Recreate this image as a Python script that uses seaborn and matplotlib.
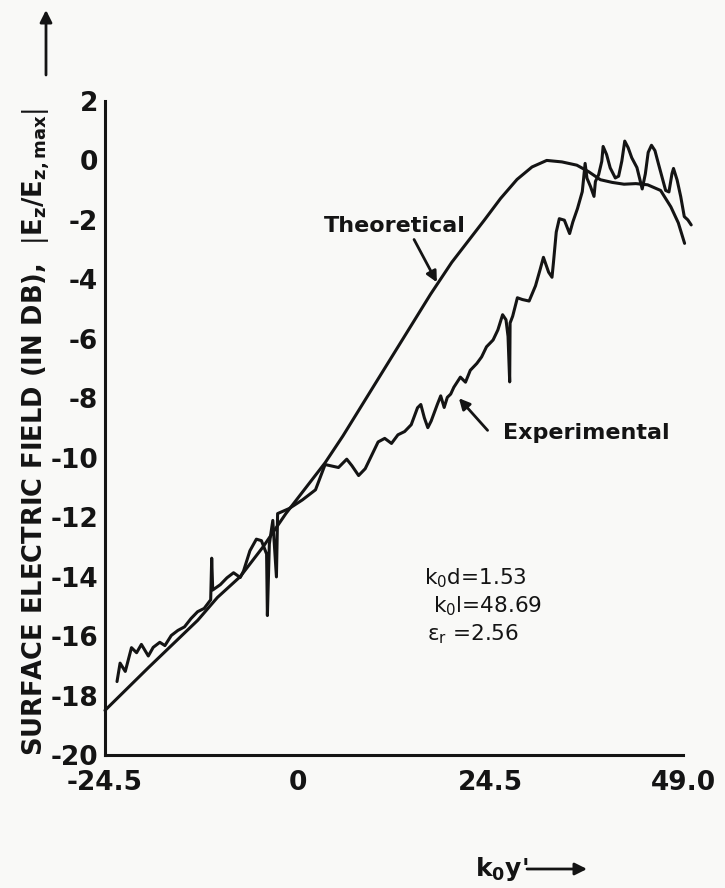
import numpy as np
import matplotlib
matplotlib.use("Agg")
import matplotlib.pyplot as plt
import seaborn as sns

# Experimental surface field |Ez/Ez,max| (dB) versus k0*y'
exp_x = [-22.97, -22.58, -21.92, -21.13, -20.48, -19.87, -18.99, -18.37, -17.53, -16.88,
         -16.07, -15.23, -14.39, -13.56, -12.72, -11.89, -11.06, -10.93, -10.80, -9.83,
         -8.99, -8.15, -7.30, -6.88, -6.07, -5.25, -4.61, -3.95, -3.85, -3.60,
         -3.16, -2.70, -2.55, -1.08, 0.60, 2.27, 3.49, 5.19, 6.24, 6.90,
         7.75, 8.59, 9.41, 10.23, 11.07, 11.93, 12.75, 13.60, 14.44, 15.24,
         15.66, 16.11, 16.55, 16.97, 17.77, 18.19, 18.63, 19.03, 19.46, 19.86,
         20.69, 21.34, 21.95, 22.78, 23.39, 24.01, 24.85, 25.46, 26.06, 26.49,
         26.75, 26.96, 27.01, 27.34, 27.94, 28.58, 29.43, 30.24, 30.84, 31.25,
         31.91, 32.34, 32.53, 32.88, 33.27, 33.91, 34.58, 34.99, 35.58, 36.19,
         36.36, 36.55, 36.79, 37.24, 37.68, 37.86, 38.27, 38.67, 38.84, 39.28,
         39.74, 40.39, 40.81, 41.22, 41.59, 42.02, 42.48, 43.14, 43.81, 44.21,
         44.57, 44.99, 45.43, 45.87, 46.33, 46.79, 47.21, 47.60, 47.79, 48.25,
         48.71, 49.16, 49.61, 50.04]
exp_y = [-17.53, -16.91, -17.19, -16.39, -16.56, -16.28, -16.67, -16.38, -16.21, -16.32,
         -15.98, -15.81, -15.69, -15.41, -15.18, -15.07, -14.78, -13.38, -14.45, -14.27,
         -14.04, -13.87, -14.03, -13.81, -13.13, -12.74, -12.79, -13.24, -15.31, -12.90,
         -12.11, -14.01, -11.88, -11.71, -11.42, -11.08, -10.23, -10.33, -10.05, -10.27,
         -10.60, -10.37, -9.92, -9.47, -9.35, -9.52, -9.23, -9.12, -8.89, -8.32,
         -8.21, -8.66, -8.99, -8.77, -8.20, -7.92, -8.31, -7.97, -7.86, -7.63,
         -7.29, -7.46, -7.06, -6.83, -6.61, -6.27, -6.04, -5.70, -5.19, -5.36,
         -5.92, -7.45, -5.47, -5.24, -4.62, -4.68, -4.73, -4.22, -3.66, -3.26,
         -3.76, -3.93, -3.42, -2.41, -1.96, -2.01, -2.46, -2.07, -1.62, -1.05,
         -0.61, -0.10, -0.60, -0.88, -1.21, -0.71, -0.48, -0.03, 0.47, 0.20,
         -0.25, -0.59, -0.53, -0.02, 0.65, 0.43, 0.09, -0.24, -0.96, -0.45,
         0.27, 0.51, 0.33, -0.11, -0.56, -1.01, -1.06, -0.44, -0.27, -0.66,
         -1.22, -1.89, -2.00, -2.17]

# Theoretical surface field (dB) versus k0*y'
theo_x = [-24.5, -18.97, -12.71, -10.2, -7.3, -4.4, -1.5, 3.49, 5.75, 10.0,
          16.9, 19.59, 23.73, 25.8, 27.89, 29.8, 31.67, 33.6, 35.5, 37.0,
          38.5, 40.0, 41.5, 43.0, 44.5, 46.15, 47.45, 48.4, 49.2]
theo_y = [-18.5, -17.06, -15.47, -14.7, -14.0, -13.0, -11.88, -10.17, -9.27, -7.45,
          -4.5, -3.43, -2.01, -1.28, -0.64, -0.22, 0.0, -0.05, -0.16, -0.38,
          -0.65, -0.74, -0.80, -0.78, -0.82, -1.01, -1.56, -2.1, -2.79]

x_tick_values = [-24.5, 0.0, 24.5, 49.0]
x_tick_labels = ["-24.5", "0", "24.5", "49.0"]
y_tick_values = [2, 0, -2, -4, -6, -8, -10, -12, -14, -16, -18, -20]
y_tick_labels = ["2", "0", "-2", "-4", "-6", "-8", "-10", "-12", "-14", "-16", "-18", "-20"]
param_lines = ["k$_0$d=1.53", "k$_0$l=48.69", r"$\epsilon_r$ =2.56"]

sns.set_theme(style="white")
plt.rcParams["font.family"] = ["DejaVu Sans"]
plt.rcParams["mathtext.fontset"] = "dejavusans"
plt.rcParams["mathtext.default"] = "regular"
plt.rcParams["axes.unicode_minus"] = False

ink = "#141414"
paper = "#f9f9f7"

fig = plt.figure(figsize=(7.25, 8.88), dpi=100, facecolor=paper)
ax = fig.add_axes([0.1448, 0.1498, 0.7973, 0.7365])
ax.set_facecolor(paper)

sns.lineplot(x=theo_x, y=theo_y, ax=ax, color=ink, lw=2.2, sort=False, estimator=None)
sns.lineplot(x=exp_x, y=exp_y, ax=ax, color=ink, lw=2.2, sort=False, estimator=None)
for ln in ax.lines:
    ln.set_clip_on(False)
    ln.set_solid_joinstyle("round")
    ln.set_solid_capstyle("round")

ax.set_xlim(-24.5, 49.0)
ax.set_ylim(-20, 2)
for side in ("top", "right"):
    ax.spines[side].set_visible(False)
for side in ("left", "bottom"):
    ax.spines[side].set_linewidth(2.2)
    ax.spines[side].set_color(ink)

# x axis: labelled positions plus evenly spaced small ticks
ax.set_xticks(x_tick_values, labels=x_tick_labels)
minor = np.linspace(-24.5, 49.0, 25)
ax.set_xticks(minor, minor=True)
ax.set_yticks(y_tick_values, labels=y_tick_labels)

ax.tick_params(axis="x", which="both", direction="in", length=8, width=1.8,
               color=ink, pad=11, labelsize=19, labelcolor=ink)
ax.tick_params(axis="y", which="both", direction="in", length=12, width=1.8,
               color=ink, pad=5, labelsize=19, labelcolor=ink)
ax.xaxis.get_major_ticks()[2].tick1line.set_markersize(12)
for lab in ax.get_xticklabels() + ax.get_yticklabels():
    lab.set_fontweight("bold")
ax.grid(False)

# curve labels with pointers
ax.text(12.3, -2.4, "Theoretical", ha="center", va="baseline",
        fontsize=16, fontweight="bold", color=ink)
ax.annotate("", xy=(17.7, -4.1), xytext=(14.8, -2.66),
            arrowprops=dict(arrowstyle="-|>", color=ink, lw=2.0,
                            mutation_scale=16, shrinkA=0, shrinkB=0))
ax.text(36.7, -9.36, "Experimental", ha="center", va="baseline",
        fontsize=16, fontweight="bold", color=ink)
ax.annotate("", xy=(20.5, -8.0), xytext=(24.15, -9.08),
            arrowprops=dict(arrowstyle="-|>", color=ink, lw=2.0,
                            mutation_scale=16, shrinkA=0, shrinkB=0))

# slab parameters
param_pos = [(16.1, -14.27), (17.17, -15.2), (16.4, -16.15)]
for (px, py), txt in zip(param_pos, param_lines):
    ax.text(px, py, txt, ha="left", va="baseline", fontsize=15.5, color=ink)

# axis titles with direction arrows
fig.text(20 / 725, 1 - 432 / 888,
         r"SURFACE ELECTRIC FIELD (IN DB),  $\left|\mathbf{E}_\mathbf{z}/\mathbf{E}_{\mathbf{z,max}}\right|$",
         rotation=90, ha="left", va="center", fontsize=18.5,
         fontweight="bold", color=ink)
ax.annotate("", xy=(46 / 725, 1 - 10 / 888), xytext=(46 / 725, 1 - 75 / 888),
            xycoords="figure fraction", textcoords="figure fraction",
            annotation_clip=False,
            arrowprops=dict(arrowstyle="-|>", color=ink, lw=2.0,
                            mutation_scale=18, shrinkA=0, shrinkB=0))

fig.text(475 / 725, 1 - 876 / 888, r"k$_\mathbf{0}$y'", ha="left", va="baseline",
         fontsize=18, fontweight="bold", color=ink)
ax.annotate("", xy=(587 / 725, 1 - 869 / 888), xytext=(527 / 725, 1 - 869 / 888),
            xycoords="figure fraction", textcoords="figure fraction",
            annotation_clip=False,
            arrowprops=dict(arrowstyle="-|>", color=ink, lw=2.0,
                            mutation_scale=18, shrinkA=0, shrinkB=0))

fig.savefig("out.png", dpi=100, facecolor=paper)
